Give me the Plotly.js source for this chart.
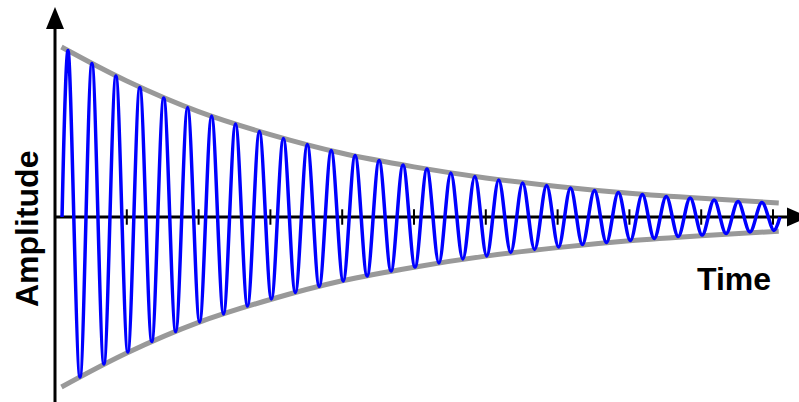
<!DOCTYPE html>
<html>
<head>
<meta charset="utf-8">
<script src="https://cdn.plot.ly/plotly-3.0.1.min.js"></script>
<style>
  html, body { margin: 0; padding: 0; background: #fff; }
  #chart { width: 799px; height: 402px; }
</style>
</head>
<body>
<div id="chart"></div>
<script>
// time of each peak / trough of the wave (1 unit = one tick on the time axis)
const extremaTime = [
    0.181, 0.348, 0.514, 0.681, 0.848, 1.014, 1.181, 1.348, 1.514, 1.681,
    1.847, 2.014, 2.181, 2.347, 2.514, 2.681, 2.847, 3.014, 3.181, 3.347,
    3.514, 3.680, 3.847, 4.014, 4.180, 4.347, 4.514, 4.680, 4.847, 5.014,
    5.180, 5.347, 5.513, 5.680, 5.847, 6.013, 6.180, 6.347, 6.513, 6.680,
    6.847, 7.013, 7.180, 7.346, 7.513, 7.680, 7.846, 8.013, 8.180, 8.346,
    8.513, 8.680, 8.846, 9.013, 9.180, 9.346, 9.513, 9.679, 9.846, 10.013
];
// size of each swing, peaks and troughs alternate (first one is a peak)
const extremaAmp = [
    0.979, 0.941, 0.903, 0.865, 0.829, 0.794, 0.762, 0.732, 0.700, 0.674,
    0.644, 0.618, 0.594, 0.571, 0.547, 0.524, 0.503, 0.482, 0.462, 0.444,
    0.426, 0.409, 0.391, 0.376, 0.362, 0.347, 0.332, 0.318, 0.306, 0.294,
    0.282, 0.271, 0.259, 0.247, 0.238, 0.229, 0.218, 0.209, 0.200, 0.191,
    0.185, 0.176, 0.171, 0.162, 0.156, 0.150, 0.144, 0.138, 0.132, 0.126,
    0.121, 0.115, 0.112, 0.106, 0.100, 0.097, 0.091, 0.088, 0.085, 0.079
];
const waveStart = 0.098;
const waveEnd = 10.096;

// decay envelope (upper half, lower half is its mirror)
const envelopeTime = [0.09, 1, 2, 3, 4, 5, 6, 7, 8, 9, 10.08];
const envelopeAmp = [1.0, 0.80, 0.62, 0.485, 0.375, 0.295, 0.23, 0.18, 0.14, 0.11, 0.083];

const tickTimes = [1, 2, 3, 4, 5, 6, 7, 8, 9, 10];

// axis geometry
const yAxisTop = 1.106;
const yAxisBottom = -1.1;
const xAxisEnd = 10.195;

const waveX = [waveStart].concat(extremaTime, [waveEnd]);
const waveY = [0].concat(extremaAmp.map((a, i) => (i % 2 === 0 ? a : -a)), [0]);

const envUpper = {
    x: envelopeTime,
    y: envelopeAmp,
    mode: "lines",
    line: { color: "#999999", width: 5, shape: "spline" },
    hoverinfo: "skip",
};
const envLower = {
    x: envelopeTime,
    y: envelopeAmp.map(v => -v),
    mode: "lines",
    line: { color: "#999999", width: 5, shape: "spline" },
    hoverinfo: "skip",
};
const ticks = {
    x: tickTimes,
    y: tickTimes.map(() => 0),
    mode: "markers",
    marker: { symbol: "line-ns", size: 11, line: { color: "#000", width: 2 } },
    hoverinfo: "skip",
};
const wave = {
    x: waveX,
    y: waveY,
    mode: "lines",
    line: { color: "#0000ff", width: 3.5, shape: "spline", smoothing: 1, simplify: false },
    hoverinfo: "skip",
};

const layout = {
    width: 799,
    height: 402,
    margin: { l: 0, r: 0, t: 0, b: 0 },
    paper_bgcolor: "#fff",
    plot_bgcolor: "#fff",
    showlegend: false,
    xaxis: { range: [-0.766, 10.362], showgrid: false, zeroline: false, showticklabels: false, ticks: "", showline: false },
    yaxis: { range: [-1.088, 1.2765], showgrid: false, zeroline: false, showticklabels: false, ticks: "", showline: false },
    shapes: [
        { type: "line", layer: "below", xref: "x", yref: "y", x0: 0, x1: 0, y0: yAxisBottom, y1: yAxisTop, line: { color: "#000", width: 3 } },
        { type: "line", layer: "below", xref: "x", yref: "y", x0: 0, x1: xAxisEnd, y0: 0, y1: 0, line: { color: "#000", width: 3 } },
        {
            type: "path", xref: "x", yref: "y", xsizemode: "pixel", ysizemode: "pixel",
            xanchor: 0, yanchor: yAxisTop, path: "M-9,0 L9,0 L0,22 Z",
            fillcolor: "#000", line: { width: 0 },
        },
        {
            type: "path", xref: "x", yref: "y", xsizemode: "pixel", ysizemode: "pixel",
            xanchor: xAxisEnd, yanchor: 0, path: "M0,-9.5 L0,9.5 L22,0 Z",
            fillcolor: "#000", line: { width: 0 },
        },
    ],
    annotations: [
        {
            text: "<b>Amplitude</b>", xref: "paper", yref: "paper",
            x: 27 / 799, y: 1 - 229 / 402, xanchor: "center", yanchor: "middle",
            textangle: -90, showarrow: false,
            font: { family: "Arial, 'Liberation Sans', sans-serif", size: 32, color: "#000" },
        },
        {
            text: "<b>Time</b>", xref: "paper", yref: "paper",
            x: 734 / 799, y: 1 - 279 / 402, xanchor: "center", yanchor: "middle",
            showarrow: false,
            font: { family: "Arial, 'Liberation Sans', sans-serif", size: 32, color: "#000" },
        },
    ],
};

Plotly.newPlot("chart", [envUpper, envLower, ticks, wave], layout, { staticPlot: true, displayModeBar: false });
</script>
</body>
</html>
